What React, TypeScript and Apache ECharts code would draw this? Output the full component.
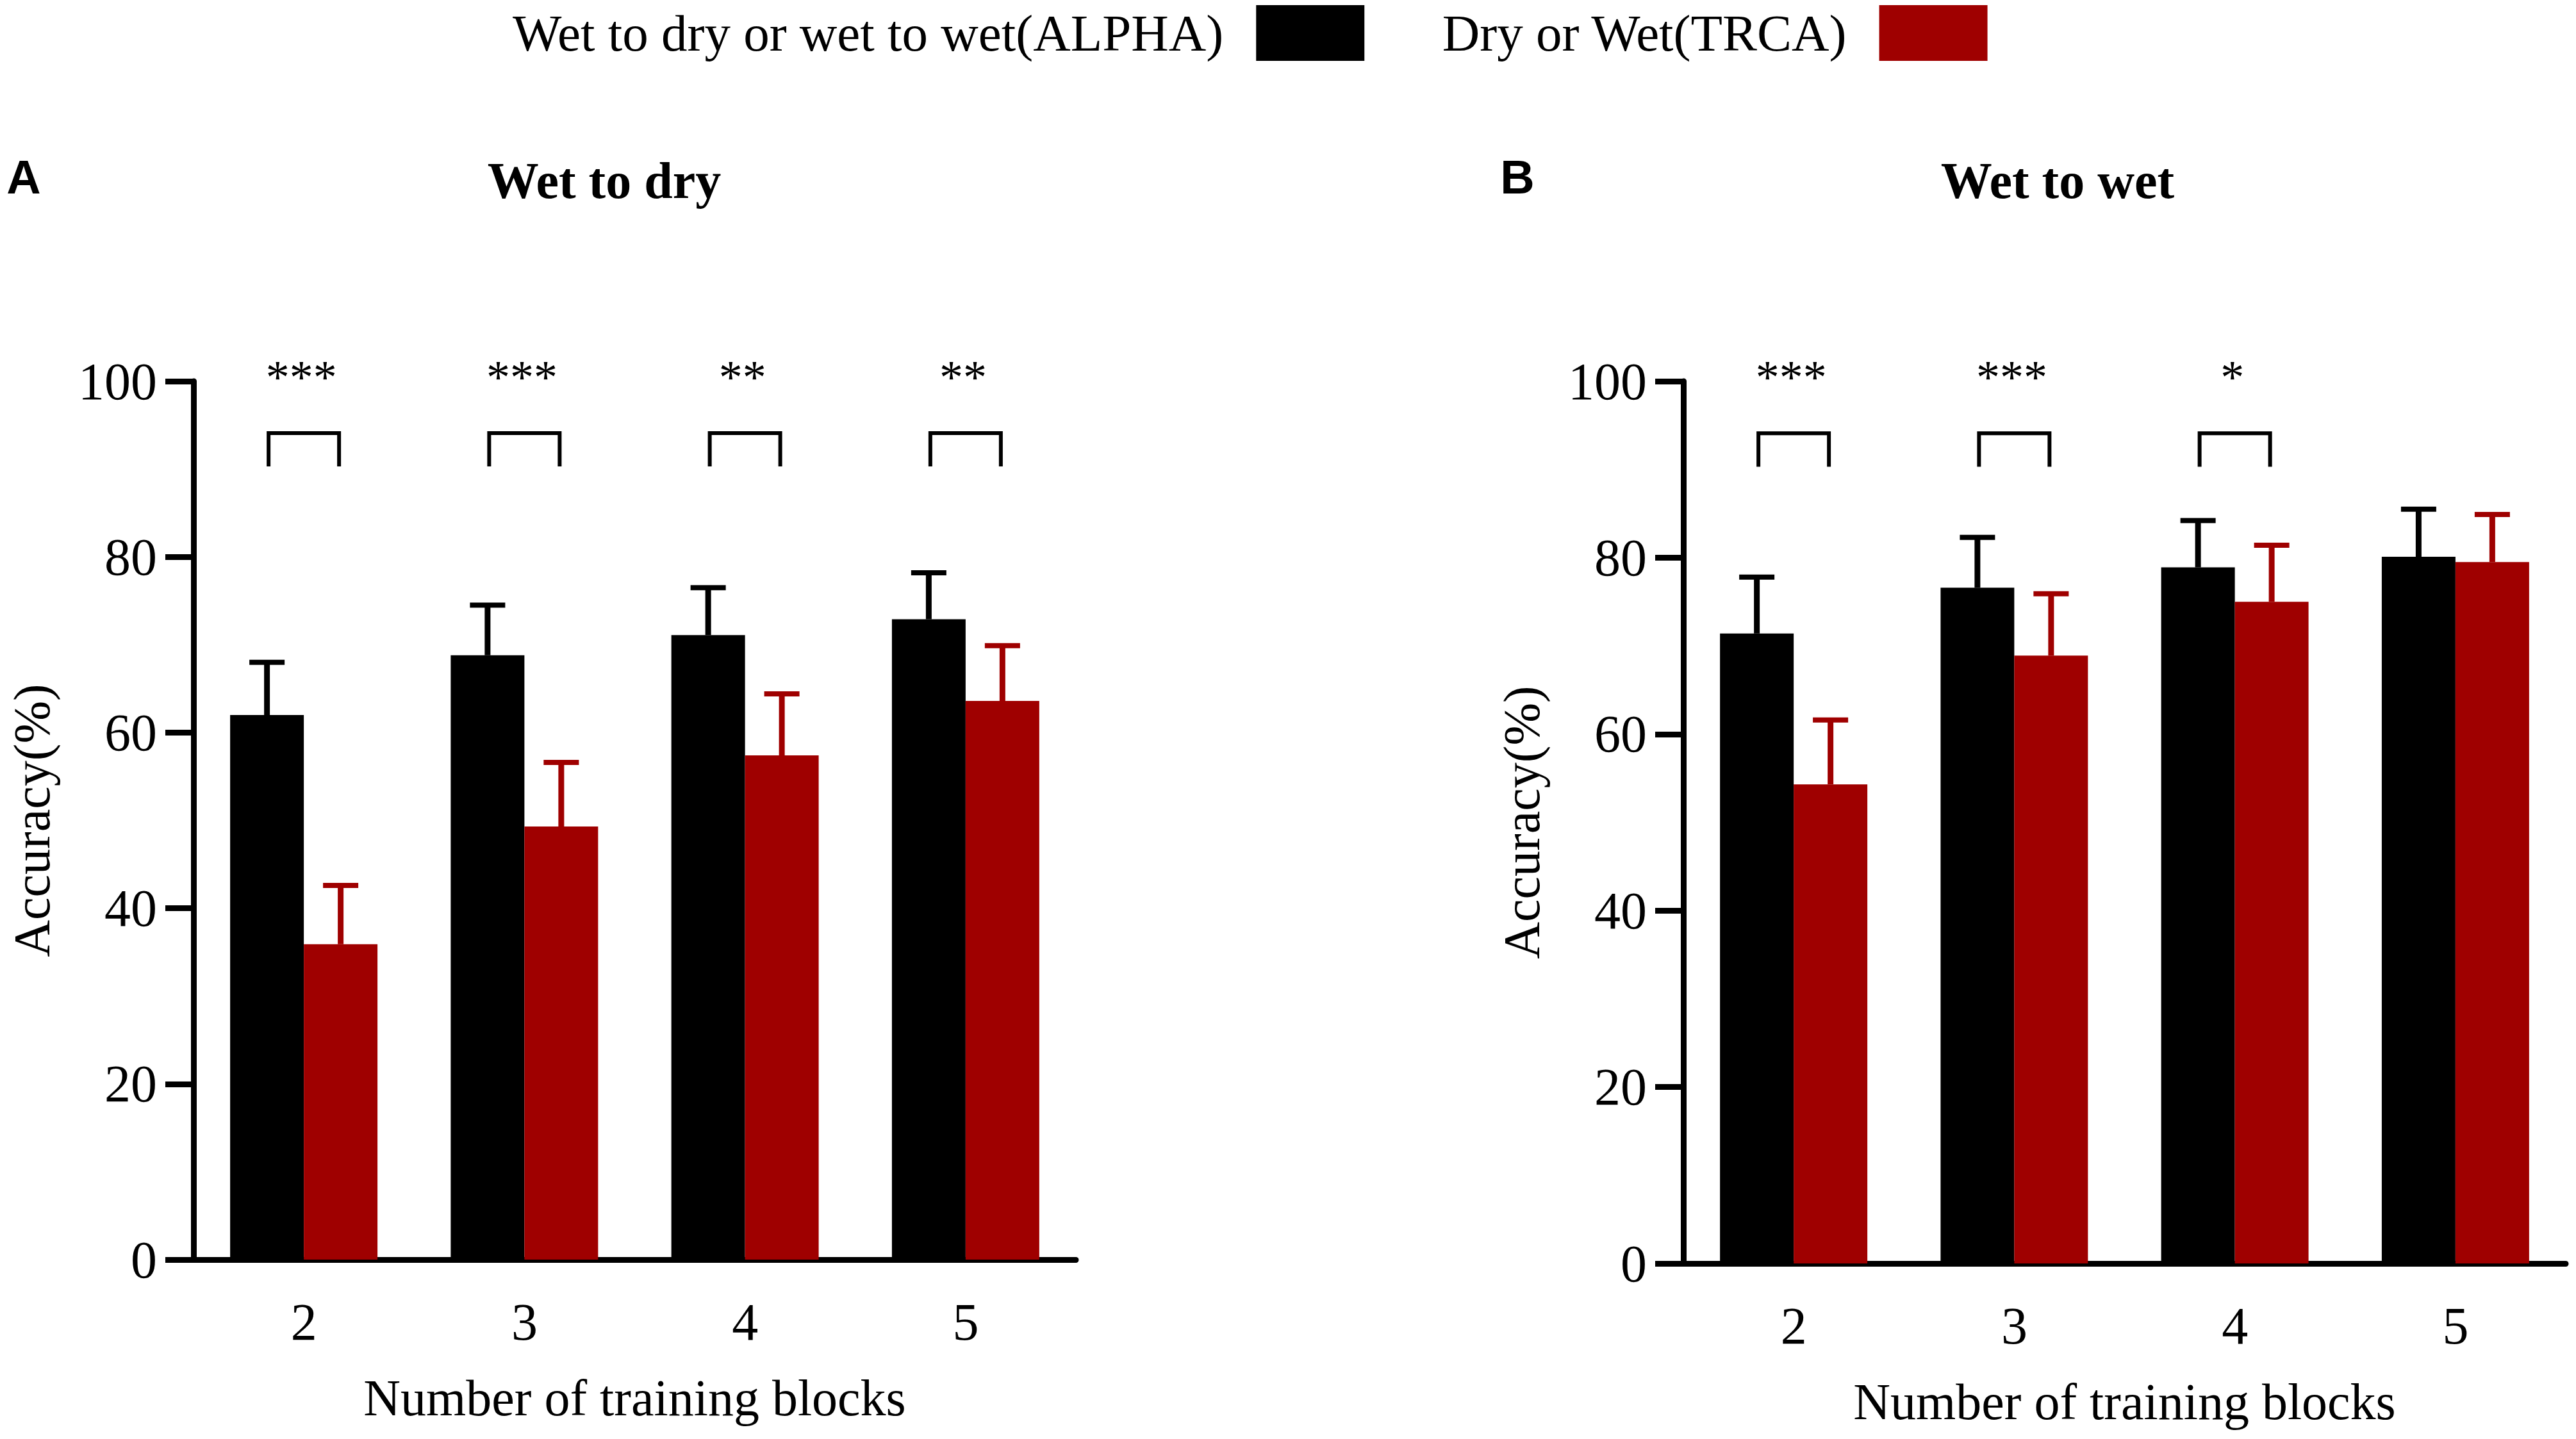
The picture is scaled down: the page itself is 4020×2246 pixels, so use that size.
import React, { useEffect, useRef } from "react";
import * as echarts from "echarts";

// ---- data ----
const categories = ["2", "3", "4", "5"];
const seriesNames = ["Wet to dry or wet to wet(ALPHA)", "Dry or Wet(TRCA)"];
// Panel A: Wet to dry
const alphaDryMean = [62.0, 68.8, 71.1, 72.9];
const alphaDrySD = [6.0, 5.7, 5.4, 5.3];
const trcaDryMean = [35.9, 49.3, 57.4, 63.6];
const trcaDrySD = [6.7, 7.3, 7.0, 6.3];
const sigDry = ["***", "***", "**", "**"];
// Panel B: Wet to wet
const alphaWetMean = [71.4, 76.6, 78.9, 80.1];
const alphaWetSD = [6.4, 5.7, 5.3, 5.4];
const trcaWetMean = [54.3, 68.9, 75.0, 79.5];
const trcaWetSD = [7.3, 7.0, 6.4, 5.4];
const sigWet = ["***", "***", "*"];
const yTicks = [0, 20, 40, 60, 80, 100];

// annotation levels (data units)
const BRACKET_TOP = 94.1;
const BRACKET_LEG = 90.3;
const STAR_LEVEL = 100.9;

const BLACK = "#000000";
const RED = "#9F0000";
const SERIF = "'Liberation Serif', 'Times New Roman', serif";
const SANS = "'Liberation Sans', Arial, sans-serif";
const BAR_FRAC = 0.334;

function errorSeries(name: string, grid: number, mean: number[], sd: number[], side: number, color: string) {
  return {
    type: "custom",
    name,
    xAxisIndex: grid,
    yAxisIndex: grid,
    clip: false,
    z: 5,
    encode: { x: 0, y: 1 },
    data: mean.map((m, i) => [i, m, sd[i]]),
    renderItem: (params: any, api: any) => {
      const cat = api.value(0);
      const m = api.value(1);
      const s = api.value(2);
      const p0 = api.coord([cat, m]);
      const p1 = api.coord([cat, m + s]);
      const band = api.size([1, 0])[0];
      const x = p0[0] + (side * band * BAR_FRAC) / 2;
      return {
        type: "group",
        children: [
          { type: "line", shape: { x1: x, y1: p0[1], x2: x, y2: p1[1] }, style: { stroke: color, lineWidth: 9 } },
          { type: "line", shape: { x1: x - 27.5, y1: p1[1], x2: x + 27.5, y2: p1[1] }, style: { stroke: color, lineWidth: 8 } },
        ],
      };
    },
  };
}

function sigSeries(name: string, grid: number, sig: string[]) {
  return {
    type: "custom",
    name,
    xAxisIndex: grid,
    yAxisIndex: grid,
    clip: false,
    z: 6,
    encode: { x: 0, y: 1 },
    data: sig.map((_, i) => [i, BRACKET_TOP]),
    renderItem: (params: any, api: any) => {
      const cat = api.value(0);
      const pt = api.coord([cat, BRACKET_TOP]);
      const pl = api.coord([cat, BRACKET_LEG]);
      const ps = api.coord([cat, STAR_LEVEL]);
      const half = 55;
      return {
        type: "group",
        children: [
          {
            type: "polyline",
            shape: { points: [[pt[0] - half, pl[1]], [pt[0] - half, pt[1]], [pt[0] + half, pt[1]], [pt[0] + half, pl[1]]] },
            style: { stroke: BLACK, lineWidth: 6, fill: "none" },
          },
          {
            type: "text",
            x: ps[0] - 4,
            y: ps[1] + 6,
            style: { text: sig[params.dataIndex], fontSize: 74, fontFamily: SERIF, fill: BLACK, align: "center", verticalAlign: "middle" },
          },
        ],
      };
    },
  };
}

function xAxisCfg(grid: number) {
  return {
    type: "category",
    gridIndex: grid,
    data: categories,
    name: "Number of training blocks",
    nameLocation: "middle",
    nameGap: 176,
    nameTextStyle: { fontFamily: SERIF, fontSize: 80, color: BLACK },
    axisLine: { lineStyle: { color: BLACK, width: 9 } },
    axisTick: { alignWithLabel: true, length: 43, lineStyle: { color: BLACK, width: 9 } },
    axisLabel: { fontFamily: SERIF, fontSize: 82, color: BLACK, margin: 56 },
    splitLine: { show: false },
  };
}

function yAxisCfg(grid: number) {
  return {
    type: "value",
    gridIndex: grid,
    min: yTicks[0],
    max: yTicks[yTicks.length - 1],
    interval: yTicks[1] - yTicks[0],
    name: "Accuracy(%)",
    nameLocation: "middle",
    nameGap: 212,
    nameTextStyle: { fontFamily: SERIF, fontSize: 80, color: BLACK },
    axisLine: { show: true, lineStyle: { color: BLACK, width: 9 } },
    axisTick: { show: true, length: 44, lineStyle: { color: BLACK, width: 9 } },
    axisLabel: { fontFamily: SERIF, fontSize: 82, color: BLACK, margin: 57 },
    splitLine: { show: false },
  };
}

function barSeries(name: string, grid: number, data: number[], color: string) {
  return {
    type: "bar",
    name,
    xAxisIndex: grid,
    yAxisIndex: grid,
    data,
    barWidth: "33.4%",
    barGap: "0%",
    itemStyle: { color },
    z: 2,
  };
}

export default function App() {
  const ref = useRef<HTMLDivElement>(null);
  useEffect(() => {
    document.body.style.margin = "0";
    if (!ref.current) return;
    const chart = echarts.init(ref.current, undefined, { renderer: "svg" });
    chart.setOption({
      animation: false,
      backgroundColor: "#ffffff",
      legend: {
        data: seriesNames,
        left: 800,
        top: 8,
        padding: 0,
        align: "right",
        icon: "rect",
        itemWidth: 169,
        itemHeight: 87,
        itemGap: 120,
        selectedMode: false,
        textStyle: { fontFamily: SERIF, fontSize: 81, color: BLACK, padding: [0, 46, 0, 0] },
      },
      grid: [
        { left: 302, top: 595, width: 1377, height: 1371 },
        { left: 2627, top: 595, width: 1377, height: 1377 },
      ],
      xAxis: [xAxisCfg(0), xAxisCfg(1)],
      yAxis: [yAxisCfg(0), yAxisCfg(1)],
      graphic: [
        { type: "text", x: 37, y: 276, style: { text: "A", fontFamily: SANS, fontWeight: "bold", fontSize: 74, fill: BLACK, align: "center", verticalAlign: "middle" } },
        { type: "text", x: 2368, y: 276, style: { text: "B", fontFamily: SANS, fontWeight: "bold", fontSize: 74, fill: BLACK, align: "center", verticalAlign: "middle" } },
        { type: "text", x: 943, y: 282, style: { text: "Wet to dry", fontFamily: SERIF, fontWeight: "bold", fontSize: 80, fill: BLACK, align: "center", verticalAlign: "middle" } },
        { type: "text", x: 3211, y: 282, style: { text: "Wet to wet", fontFamily: SERIF, fontWeight: "bold", fontSize: 80, fill: BLACK, align: "center", verticalAlign: "middle" } },
      ],
      series: [
        barSeries(seriesNames[0], 0, alphaDryMean, BLACK),
        barSeries(seriesNames[1], 0, trcaDryMean, RED),
        barSeries(seriesNames[0], 1, alphaWetMean, BLACK),
        barSeries(seriesNames[1], 1, trcaWetMean, RED),
        errorSeries("errA1", 0, alphaDryMean, alphaDrySD, -1, BLACK),
        errorSeries("errA2", 0, trcaDryMean, trcaDrySD, 1, RED),
        errorSeries("errB1", 1, alphaWetMean, alphaWetSD, -1, BLACK),
        errorSeries("errB2", 1, trcaWetMean, trcaWetSD, 1, RED),
        sigSeries("sigA", 0, sigDry),
        sigSeries("sigB", 1, sigWet),
      ],
    });
    return () => chart.dispose();
  }, []);
  return <div ref={ref} style={{ width: 4020, height: 2246 }} />;
}
